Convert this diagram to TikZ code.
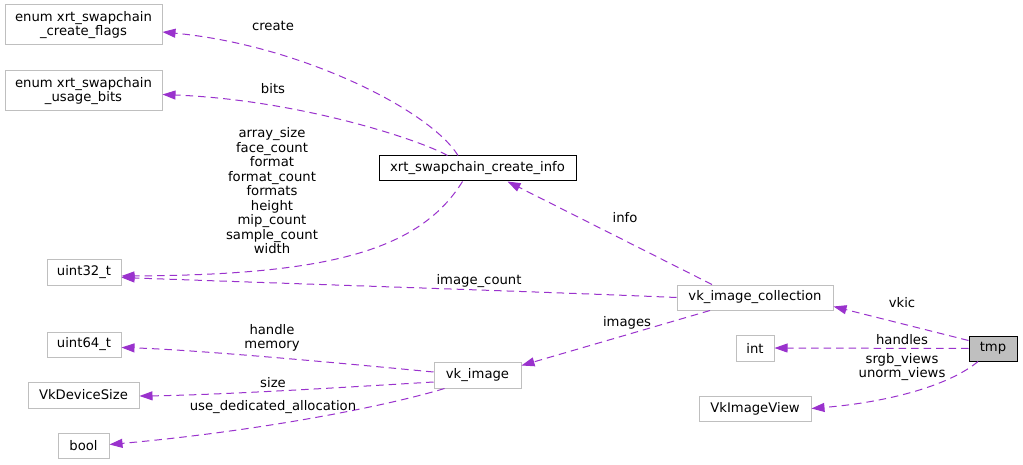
\documentclass[tikz,border=0pt]{standalone}
\usepackage{fontspec}
\setmainfont{DejaVu Sans}
\usetikzlibrary{arrows.meta,calc}
\definecolor{edgec}{HTML}{9A32CD}
\definecolor{boxc}{HTML}{BFBFBF}
\definecolor{tmpfill}{HTML}{BFBFBF}
\tikzset{
  cls/.style={draw=boxc, line width=1pt, fill=white, inner sep=0pt, align=center, font=\fontsize{13.2}{14.5}\selectfont},
  main/.style={cls, draw=black},
  cur/.style={cls, draw=black, fill=tmpfill},
  rel/.style={draw=edgec, line width=1pt, dash pattern=on 7.5pt off 5pt, -{Triangle[length=13pt,width=9pt,fill=edgec]}},
  lbl/.style={inner sep=0pt, align=center, font=\fontsize{13.2}{14.5}\selectfont}
}
\begin{document}
\begin{tikzpicture}[x=1pt,y=-1pt]
\useasboundingbox[fill=white] (0,0) rectangle (1023,465);
% nodes
\node[cls, minimum width=157pt, minimum height=40pt] (cf) at (83.5,25) {enum xrt\_swapchain\\\_create\_flags};
\node[cls, minimum width=157pt, minimum height=40pt] (ub) at (83.5,91) {enum xrt\_swapchain\\\_usage\_bits};
\node[cls, minimum width=74pt, minimum height=25pt] (u32) at (84,272.5) {uint32\_t};
\node[cls, minimum width=74pt, minimum height=25pt] (u64) at (84,344.5) {uint64\_t};
\node[cls, minimum width=111pt, minimum height=26pt] (vds) at (83.5,395) {VkDeviceSize};
\node[cls, minimum width=51pt, minimum height=25pt] (bool) at (83.5,445.5) {bool};
\node[main, minimum width=197pt, minimum height=25pt] (ci) at (477.5,168.5) {xrt\_swapchain\_create\_info};
\node[cls, minimum width=156pt, minimum height=25pt] (vkic) at (755,297.5) {vk\_image\_collection};
\node[cls, minimum width=38pt, minimum height=26pt] (int) at (755,348) {int};
\node[cur, minimum width=48pt, minimum height=25pt] (tmp) at (993,348.5) {tmp};
\node[cls, minimum width=112pt, minimum height=25pt] (iv) at (755,408.5) {VkImageView};
\node[cls, minimum width=87pt, minimum height=26pt] (vki) at (477.5,375) {vk\_image};
% edges
\draw[rel] ($(ci.north)+(-19.5,0)$) .. controls (430,110) and (300,45) .. ($(cf.east)+(0,7)$);
\draw[rel] ($(ci.north)+(-30,0)$) .. controls (420,140) and (300,100) .. ($(ub.east)+(0,3.5)$);
\draw[rel] ($(ci.south)+(-15,0)$) .. controls (420,250) and (330,275) .. ($(u32.east)+(0,3.5)$);
\draw[rel] ($(vkic.north)+(-43,0)$) -- ($(ci.south)+(30,0)$);
\draw[rel] (vkic.west) .. controls (550,292) and (300,284) .. ($(u32.east)+(0,5)$);
\draw[rel] ($(vkic.south)+(-45,0)$) -- ($(vki.north east)+(0,4)$);
\draw[rel] ($(vki.west)+(0,-3)$) .. controls (350,364) and (200,350) .. ($(u64.east)+(0,3)$);
\draw[rel] ($(vki.west)+(0,7)$) .. controls (350,387) and (220,395) .. ($(vds.east)+(0,1)$);
\draw[rel] ($(vki.south)+(-33,0)$) .. controls (380,408) and (250,432) .. ($(bool.east)+(0,-1)$);
\draw[rel] ($(tmp.west)+(0,-8)$) -- ($(vkic.east)+(0,9)$);
\draw[rel] (tmp.west) -- (int.east);
\draw[rel] ($(tmp.south)+(-15,0)$) .. controls (950,385) and (890,402) .. (iv.east);
% labels
\node[lbl] (l1) at (273,26) {create};
\node[lbl] (l2) at (273,89) {bits};
\node[lbl] (l3) at (272,191) {array\_size\\face\_count\\format\\format\_count\\formats\\height\\mip\_count\\sample\_count\\width};
\node[lbl] (l4) at (625,218) {info};
\node[lbl] (l5) at (479,281) {image\_count};
\node[lbl] (l6) at (627,323) {images};
\node[lbl] (l7) at (272,338) {handle\\memory};
\node[lbl] (l8) at (273,383) {size};
\node[lbl] (l9) at (273,407) {use\_dedicated\_allocation};
\node[lbl] (l10) at (902,303) {vkic};
\node[lbl] (l11) at (902,340) {handles};
\node[lbl] (l12) at (902,367) {srgb\_views\\unorm\_views};
\end{tikzpicture}
\end{document}
